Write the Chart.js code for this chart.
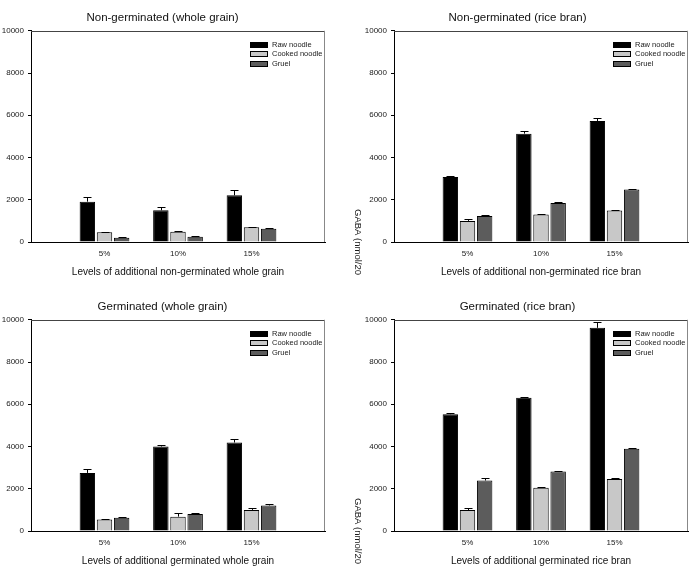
<!DOCTYPE html>
<html>
<head>
<meta charset="utf-8">
<script src="https://cdn.jsdelivr.net/npm/chart.js@4.4.0/dist/chart.umd.min.js"></script>
<style>
  body { margin: 0; background: #fff; }
  #wrap { position: relative; width: 694px; height: 578px; }
  canvas { position: absolute; }
</style>
</head>
<body>
<div id="wrap">
  <canvas id="ngWhole" width="347" height="289" style="left:0;top:0"></canvas>
  <canvas id="ngBran" width="347" height="289" style="left:347px;top:0"></canvas>
  <canvas id="gWhole" width="347" height="289" style="left:0;top:289px"></canvas>
  <canvas id="gBran" width="347" height="289" style="left:347px;top:289px"></canvas>
</div>
<script>
const categories = ["5%", "10%", "15%"];
const seriesNames = ["Raw noodle", "Cooked noodle", "Gruel"];
const seriesColors = ["#000000", "#c8c8c8", "#5c5c5c"];
const yMax = 10000;
const yStep = 2000;

// Non-germinated (whole grain)
const ngWholeRaw = [1910, 1500, 2210];
const ngWholeCooked = [460, 490, 700];
const ngWholeGruel = [200, 250, 630];
const ngWholeRawErr = [200, 170, 230];
const ngWholeCookedErr = [30, 30, 30];
const ngWholeGruelErr = [20, 15, 30];

// Non-germinated (rice bran)
const ngBranRaw = [3080, 5130, 5730];
const ngBranCooked = [1000, 1300, 1490];
const ngBranGruel = [1230, 1850, 2490];
const ngBranRawErr = [60, 140, 140];
const ngBranCookedErr = [80, 20, 20];
const ngBranGruelErr = [50, 30, 40];

// Germinated (whole grain)
const gWholeRaw = [2750, 4000, 4190];
const gWholeCooked = [550, 680, 1000];
const gWholeGruel = [630, 800, 1210];
const gWholeRawErr = [200, 80, 150];
const gWholeCookedErr = [20, 180, 80];
const gWholeGruelErr = [30, 30, 90];

// Germinated (rice bran)
const gBranRaw = [5530, 6310, 9620];
const gBranCooked = [990, 2050, 2460];
const gBranGruel = [2390, 2820, 3890];
const gBranRawErr = [80, 50, 270];
const gBranCookedErr = [110, 30, 40];
const gBranGruelErr = [130, 30, 60];

Chart.defaults.font.family = "'Liberation Sans', Arial, sans-serif";
Chart.defaults.color = "#1a1a1a";

// blank slot on each side so the three groups sit like the original axis
const pad = arr => [null, ...arr, null];

const errorBars = {
  id: "errorBars",
  afterDatasetsDraw(chart) {
    const ctx = chart.ctx;
    const y = chart.scales.y;
    chart.data.datasets.forEach((ds, i) => {
      chart.getDatasetMeta(i).data.forEach((bar, j) => {
        const v = ds.data[j], e = ds.errors[j];
        if (v == null || e == null) return;
        const x = Math.round(bar.x) + 0.5;
        const top = Math.round(y.getPixelForValue(v + e)) + 0.5;
        ctx.save();
        ctx.strokeStyle = "#000";
        ctx.lineWidth = 1;
        ctx.beginPath();
        ctx.moveTo(x, bar.y);
        ctx.lineTo(x, top);
        ctx.moveTo(x - 4, top);
        ctx.lineTo(x + 4, top);
        ctx.stroke();
        ctx.restore();
      });
    });
  }
};

const frameAndLegend = {
  id: "frameAndLegend",
  afterDraw(chart) {
    const ctx = chart.ctx;
    const a = chart.chartArea;
    ctx.save();
    ctx.lineWidth = 1;
    ctx.strokeStyle = "#444";
    ctx.beginPath();
    ctx.moveTo(a.left, Math.round(a.top) + 0.5);
    ctx.lineTo(a.right, Math.round(a.top) + 0.5);
    ctx.stroke();
    ctx.strokeStyle = "#888";
    ctx.beginPath();
    ctx.moveTo(Math.round(a.right) - 0.5, a.top);
    ctx.lineTo(Math.round(a.right) - 0.5, a.bottom);
    ctx.stroke();

    // legend inside the plot, top right
    ctx.font = "7.5px 'Liberation Sans', Arial, sans-serif";
    ctx.textBaseline = "middle";
    ctx.textAlign = "left";
    seriesNames.forEach((name, i) => {
      const cy = Math.round(a.top + 14 + i * 9.5);
      const bx = Math.round(a.right - 75);
      ctx.fillStyle = seriesColors[i];
      ctx.fillRect(bx, cy - 3, 18, 6);
      ctx.strokeStyle = "#000";
      ctx.strokeRect(bx + 0.5, cy - 2.5, 17, 5);
      ctx.fillStyle = "#1a1a1a";
      ctx.fillText(name, bx + 22, cy);
    });

    const yTitle = chart.options.plugins.yTitleText;
    if (yTitle) {
      ctx.translate(11, 209);
      ctx.rotate(Math.PI / 2);
      ctx.font = "9.5px 'Liberation Sans', Arial, sans-serif";
      ctx.fillStyle = "#1a1a1a";
      ctx.fillText(yTitle, 0, 0);
    }
    ctx.restore();
  }
};

function makePanel(id, title, xTitle, raw, cooked, gruel, rawErr, cookedErr, gruelErr, right) {
  const values = [raw, cooked, gruel];
  const errs = [rawErr, cookedErr, gruelErr];
  new Chart(document.getElementById(id), {
    type: "bar",
    data: {
      labels: pad(categories),
      datasets: seriesNames.map((name, i) => ({
        label: name,
        data: pad(values[i]),
        errors: pad(errs[i]),
        backgroundColor: seriesColors[i],
        borderColor: "#000",
        borderWidth: 1,
        barPercentage: 0.9,
        categoryPercentage: 0.7
      }))
    },
    options: {
      responsive: false,
      animation: false,
      devicePixelRatio: 1,
      layout: { padding: { left: 0, right: right ? 6 : 22, top: 0, bottom: 0 } },
      plugins: {
        legend: { display: false },
        tooltip: { enabled: false },
        yTitleText: right ? "GABA (nmol/20" : null,
        title: {
          display: true,
          text: title,
          color: "#111",
          font: { size: 11.5, weight: "normal" },
          padding: { top: 11, bottom: 6 }
        }
      },
      scales: {
        x: {
          offset: false,
          grid: { display: false, drawTicks: false },
          border: { display: true, color: "#000", width: 1 },
          ticks: { font: { size: 8 }, padding: 7, autoSkip: false, maxRotation: 0 },
          title: {
            display: true,
            text: xTitle,
            color: "#111",
            font: { size: 10 },
            padding: { top: 0, bottom: 11 }
          },
          afterFit(s) { s.height = 47; }
        },
        y: {
          min: 0,
          max: yMax,
          ticks: { stepSize: yStep, font: { size: 8 }, padding: 4, callback: v => String(v) },
          grid: { drawOnChartArea: false, drawTicks: true, tickLength: 3, color: "#000" },
          border: { display: true, color: "#000", width: 1 },
          afterFit(s) { s.width = right ? 47 : 31; }
        }
      }
    },
    plugins: [errorBars, frameAndLegend]
  });
}

makePanel("ngWhole", "Non-germinated (whole grain)", "Levels of additional non-germinated whole grain",
  ngWholeRaw, ngWholeCooked, ngWholeGruel, ngWholeRawErr, ngWholeCookedErr, ngWholeGruelErr, false);
makePanel("ngBran", "Non-germinated (rice bran)", "Levels of additional non-germinated rice bran",
  ngBranRaw, ngBranCooked, ngBranGruel, ngBranRawErr, ngBranCookedErr, ngBranGruelErr, true);
makePanel("gWhole", "Germinated (whole grain)", "Levels of additional germinated whole grain",
  gWholeRaw, gWholeCooked, gWholeGruel, gWholeRawErr, gWholeCookedErr, gWholeGruelErr, false);
makePanel("gBran", "Germinated (rice bran)", "Levels of additional germinated rice bran",
  gBranRaw, gBranCooked, gBranGruel, gBranRawErr, gBranCookedErr, gBranGruelErr, true);
</script>
</body>
</html>
